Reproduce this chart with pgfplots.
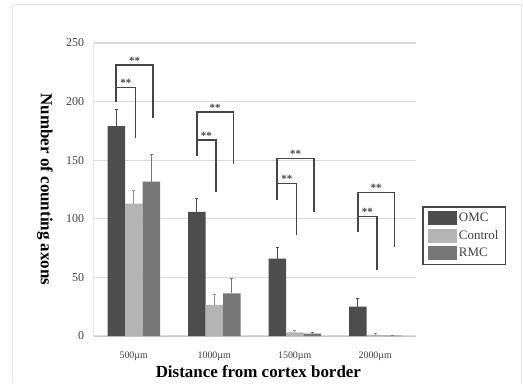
\documentclass[border=0pt]{standalone}
\usepackage{fontspec}
\setmainfont{Liberation Serif}
\usepackage{pgfplots}
\pgfplotsset{compat=1.18}
\definecolor{omc}{HTML}{4D4D4D}
\definecolor{ctl}{HTML}{B4B4B4}
\definecolor{rmc}{HTML}{767676}
\definecolor{brk}{HTML}{454545}
\definecolor{grd}{HTML}{D9D9D9}
\begin{document}
\begin{tikzpicture}[x=1bp,y=1bp]
\path[use as bounding box] (0,0) rectangle (523,383);
\draw[black!10, line width=0.8bp] (12,0) -- (12,379) -- (521,379) -- (521,0);
\begin{axis}[
  at={(93.5bp,47bp)}, anchor=south west,
  scale only axis, width=322bp, height=293bp,
  ybar=0pt, bar width=17.5bp,
  xmin=-0.5, xmax=3.5, ymin=0, ymax=250,
  xtick={0,1,2,3},
  xticklabels={500µm,1000µm,1500µm,2000µm},
  ytick={0,50,100,150,200,250},
  ymajorgrids, grid style={grd, line width=1.2bp},
  axis x line*=bottom, axis y line*=left,
  x axis line style={draw=black!22, line width=1bp},
  y axis line style={draw=black!10, line width=0.8bp},
  major tick style={draw=none},
  /pgf/number format/assume math mode=true,
  xticklabel style={font=\fontsize{10}{10}\selectfont, text=black!75, yshift=-8bp},
  yticklabel style={font=\fontsize{12}{12}\selectfont, text=black!75, xshift=-6bp},
  ylabel={Number of counting axons},
  ylabel style={font=\bfseries\fontsize{17}{17}\selectfont, at={(axis description cs:-0.1506,0.5)}, anchor=center, rotate=180},
  xlabel={Distance from cortex border},
  xlabel style={font=\bfseries\fontsize{17}{17}\selectfont, at={(axis description cs:0.512,-0.1229)}, anchor=center},
  legend style={at={(axis description cs:1.0202,0.4437)}, anchor=north west, draw=brk, line width=1.8bp,
    font=\fontsize{13}{13.5}\selectfont, text=black!75, inner xsep=5bp, inner ysep=4bp, row sep=3.5bp, cells={anchor=west}},
  legend image code/.code={\fill[#1,draw=none] (0bp,-7bp) rectangle (29bp,7bp);},
]
\addplot[fill=omc, draw=none, error bars/.cd, y dir=plus, y explicit,
  error bar style={omc, line width=0.8bp}, error mark options={omc, mark size=1.6bp, line width=0.8bp, rotate=90}]
  coordinates {(0,179) +- (0,14) (1,106) +- (0,11) (2,66) +- (0,10) (3,25) +- (0,7)};
\addplot[fill=ctl, draw=none, error bars/.cd, y dir=plus, y explicit,
  error bar style={ctl!80!black, line width=0.8bp}, error mark options={ctl!80!black, mark size=1.6bp, line width=0.8bp, rotate=90}]
  coordinates {(0,113) +- (0,11) (1,26.5) +- (0,9) (2,3) +- (0,2) (3,1) +- (0,1)};
\addplot[fill=rmc, draw=none, error bars/.cd, y dir=plus, y explicit,
  error bar style={rmc, line width=0.8bp}, error mark options={rmc, mark size=1.6bp, line width=0.8bp, rotate=90}]
  coordinates {(0,131.7) +- (0,23) (1,36.4) +- (0,12.6) (2,2) +- (0,1) (3,0.3) +- (0,0.5)};
\legend{OMC,Control,RMC}
% category separator ticks
\foreach \s in {0.5,1.5,2.5} {
  \edef\tmp{\noexpand\draw[black!22, line width=0.8bp] (axis cs:\s,0) -- ++(0,-4bp);}\tmp
}
% significance brackets
\tikzset{brkt/.style={brk, line width=1.7bp}, star/.style={above, inner sep=0.5bp, font=\bfseries\fontsize{11}{11}\selectfont, text=brk}}
% group 0
\draw[brkt] (axis cs:-0.2174,200) |- (axis cs:0.02,212) -- (axis cs:0.02,169);
\node[star] at (axis cs:-0.0987,212) {**};
\draw[brkt] (axis cs:-0.2174,200) |- (axis cs:0.2374,231) -- (axis cs:0.2374,186);
\node[star] at (axis cs:0.01,231) {**};
% group 1
\draw[brkt] (axis cs:0.7826,154) |- (axis cs:1.02,167) -- (axis cs:1.02,123);
\node[star] at (axis cs:0.9013,167) {**};
\draw[brkt] (axis cs:0.7826,154) |- (axis cs:1.2374,191) -- (axis cs:1.2374,147);
\node[star] at (axis cs:1.01,191) {**};
% group 2
\draw[brkt] (axis cs:1.7826,116) |- (axis cs:2.02,130) -- (axis cs:2.02,86);
\node[star] at (axis cs:1.9013,130) {**};
\draw[brkt] (axis cs:1.7826,116) |- (axis cs:2.2374,151.5) -- (axis cs:2.2374,106);
\node[star] at (axis cs:2.01,151.5) {**};
% group 3
\draw[brkt] (axis cs:2.7826,89) |- (axis cs:3.02,102) -- (axis cs:3.02,56.5);
\node[star] at (axis cs:2.9013,102) {**};
\draw[brkt] (axis cs:2.7826,89) |- (axis cs:3.2374,122.5) -- (axis cs:3.2374,76);
\node[star] at (axis cs:3.01,122.5) {**};
\node[font=\fontsize{11.5}{11.5}\selectfont, text=black!75] at (axis description cs:1.1227,0.1468) {** p<0.01};
\end{axis}
\end{tikzpicture}
\end{document}
